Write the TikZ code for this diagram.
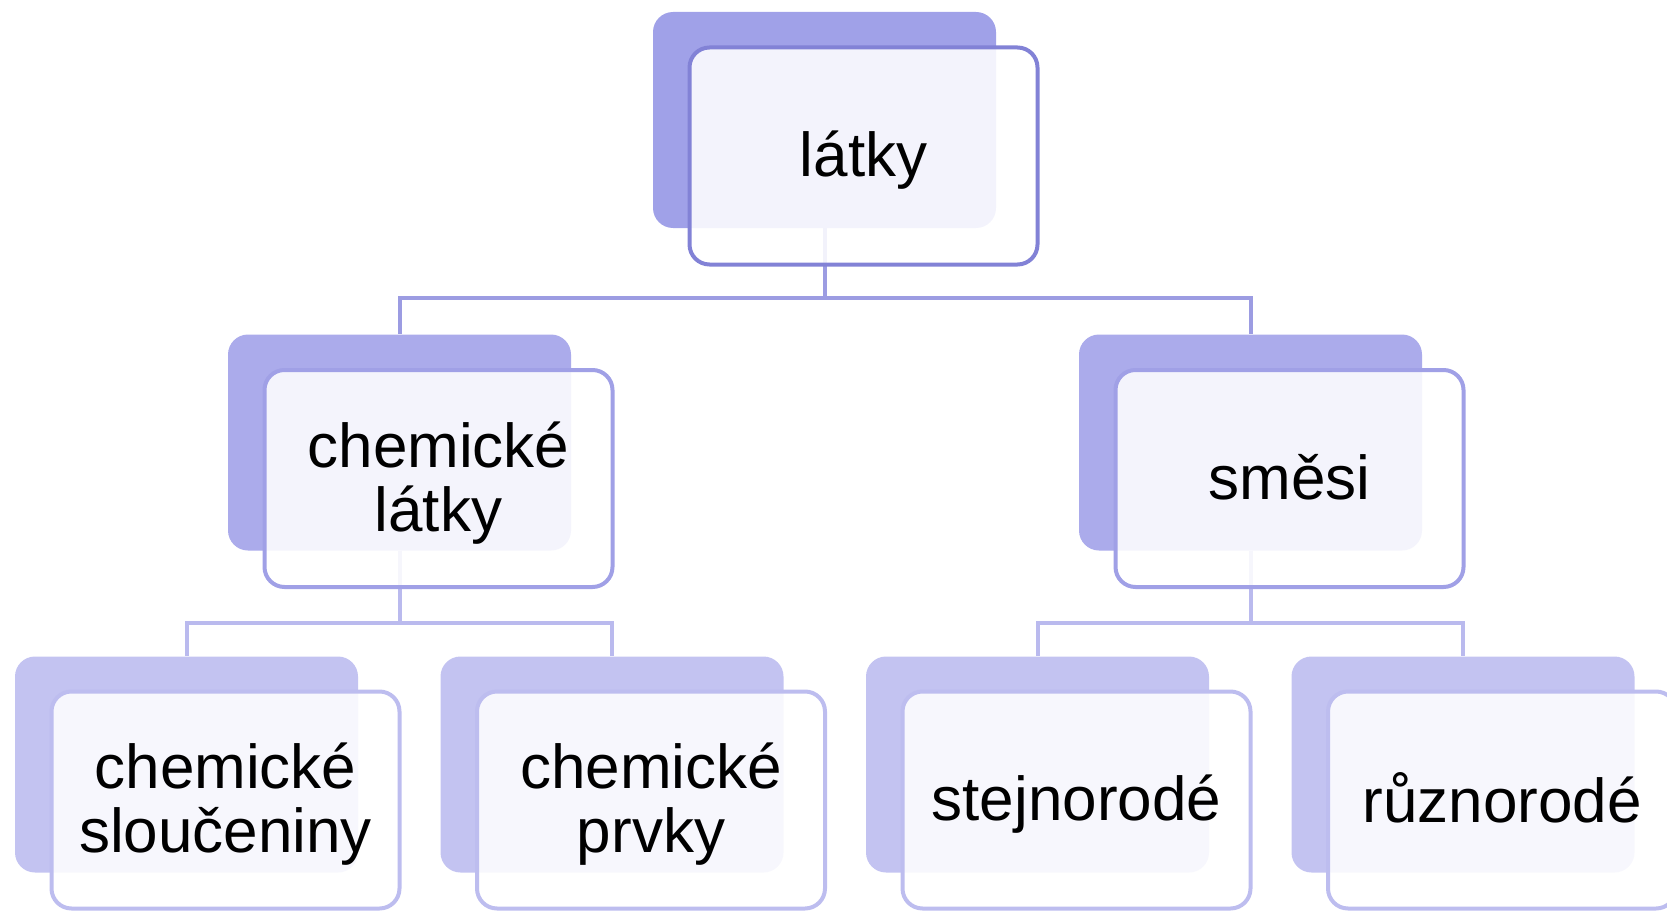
\documentclass[tikz,border=0pt]{standalone}
\usepackage{fontspec}
\setmainfont{Liberation Sans}
\definecolor{backA}{RGB}{160,161,232}
\definecolor{backB}{RGB}{171,171,235}
\definecolor{backC}{RGB}{195,195,241}
\definecolor{lineA}{RGB}{130,130,214}
\definecolor{lineB}{RGB}{160,160,230}
\definecolor{lineC}{RGB}{189,189,239}
\definecolor{connA}{RGB}{156,156,226}
\definecolor{connB}{RGB}{186,186,238}
\tikzset{
  backbox/.style={rectangle, rounded corners=20pt, minimum width=343pt, minimum height=216pt, inner sep=0pt, draw=none},
  frontbox/.style={rectangle, rounded corners=20pt, minimum width=348pt, minimum height=217pt, inner sep=0pt, line width=4pt, fill=white, fill opacity=0.88, text opacity=1, align=center, text depth=4pt, font=\fontsize{62}{64}\selectfont},
  conn/.style={line width=4pt},
}
\begin{document}
\begin{tikzpicture}[x=1pt,y=-1pt]
\useasboundingbox (0,0) rectangle (1667,912);
% back boxes
\node[backbox, fill=backA] (b1) at (824.5,120) {};
\node[backbox, fill=backB] (b2) at (399.5,442.5) {};
\node[backbox, fill=backB] (b3) at (1250.5,442.5) {};
\node[backbox, fill=backC] (b4) at (186.5,764.5) {};
\node[backbox, fill=backC] (b5) at (612,764.5) {};
\node[backbox, fill=backC] (b6) at (1037.5,764.5) {};
\node[backbox, fill=backC] (b7) at (1463,764.5) {};
% connectors
\draw[conn, connA] (b1.south) -- ++(0,70) -| (b2.north);
\draw[conn, connA] (b1.south) -- ++(0,70) -| (b3.north);
\draw[conn, connB] (b2.south) -- ++(0,72) -| (b4.north);
\draw[conn, connB] (b2.south) -- ++(0,72) -| (b5.north);
\draw[conn, connB] (b3.south) -- ++(0,72) -| (b6.north);
\draw[conn, connB] (b3.south) -- ++(0,72) -| (b7.north);
% front boxes
\node[frontbox, draw=lineA] (f1) at (863.5,156) {látky};
\node[frontbox, draw=lineB] (f2) at (438.5,478.5) {chemické\\látky};
\node[frontbox, draw=lineB] (f3) at (1289.5,478.5) {směsi};
\node[frontbox, draw=lineC] (f4) at (225.5,800) {chemické\\sloučeniny};
\node[frontbox, draw=lineC] (f5) at (651,800) {chemické\\prvky};
\node[frontbox, draw=lineC] (f6) at (1076.5,800) {stejnorodé};
\node[frontbox, draw=lineC] (f7) at (1502,800) {různorodé};
\end{tikzpicture}
\end{document}
